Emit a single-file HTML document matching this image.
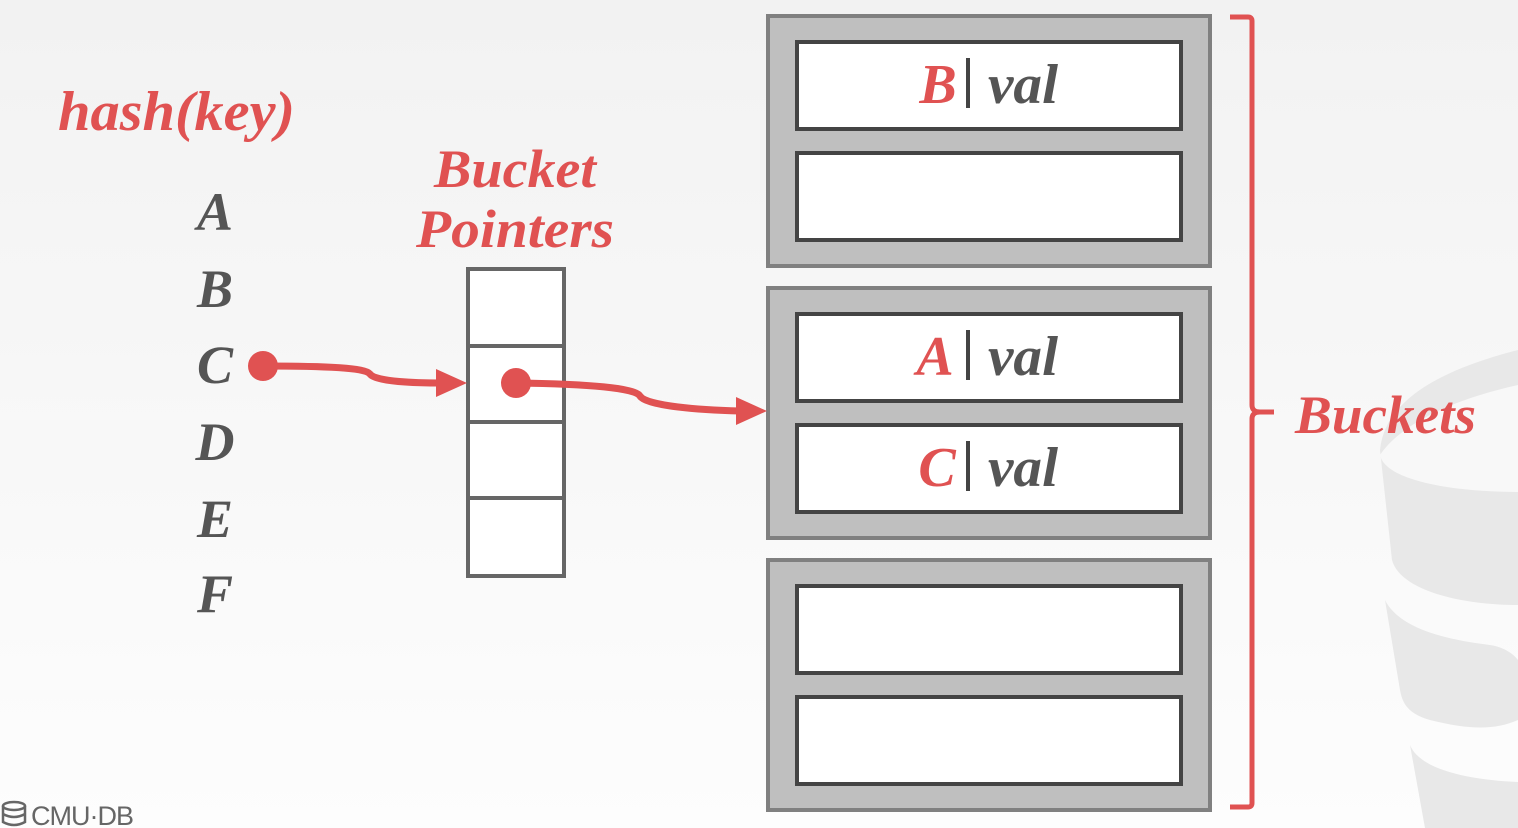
<!DOCTYPE html>
<html><head><meta charset="utf-8"><style>
html,body{margin:0;padding:0;}
body{width:1518px;height:828px;overflow:hidden;background:linear-gradient(#f2f2f2,#fdfdfd);}
svg{display:block;}
.r{fill:#e05252;font-family:"Liberation Serif",serif;font-style:italic;font-weight:bold;}
.g{fill:#555;font-family:"Liberation Serif",serif;font-style:italic;font-weight:bold;}
</style></head><body>
<svg width="1518" height="828" viewBox="0 0 1518 828">
<g fill="#e8e8e8">
<path d="M1518 350 C1440 370 1385 400 1380 450 L1392 560 C1400 590 1460 605 1518 605 Z"/>
<path d="M1385 600 C1400 630 1450 640 1490 645 C1510 648 1518 660 1518 660 L1518 720 C1495 730 1470 730 1430 720 C1405 713 1402 700 1400 690 Z"/>
<path d="M1410 745 C1420 770 1470 780 1518 782 L1518 828 L1425 828 Z"/>
<path d="M1518 385 C1450 400 1400 425 1380 455 C1385 480 1450 492 1518 492 Z" fill="#f8f8f8"/>
</g>
<text class="r" x="58" y="130" font-size="56" textLength="237" lengthAdjust="spacingAndGlyphs">hash(key)</text>
<g class="g" font-size="54" text-anchor="middle">
<text x="215" y="230">A</text>
<text x="215" y="307">B</text>
<text x="215" y="383">C</text>
<text x="215" y="460">D</text>
<text x="215" y="537">E</text>
<text x="215" y="612">F</text>
</g>
<text class="r" x="434" y="187" font-size="54" textLength="162" lengthAdjust="spacingAndGlyphs">Bucket</text>
<text class="r" x="416" y="247" font-size="54" textLength="198" lengthAdjust="spacingAndGlyphs">Pointers</text>
<g fill="#fff" stroke="#666" stroke-width="4">
<rect x="468" y="269" width="96" height="77"/>
<rect x="468" y="346" width="96" height="76"/>
<rect x="468" y="422" width="96" height="76"/>
<rect x="468" y="498" width="96" height="78"/>
</g>
<g fill="#bfbfbf" stroke="#808080" stroke-width="4">
<rect x="768" y="16" width="442" height="250"/>
<rect x="768" y="288" width="442" height="250"/>
<rect x="768" y="560" width="442" height="250"/>
</g>
<g fill="#fff" stroke="#444" stroke-width="4">
<rect x="797" y="42" width="384" height="87"/>
<rect x="797" y="153" width="384" height="87"/>
<rect x="797" y="314" width="384" height="87"/>
<rect x="797" y="425" width="384" height="87"/>
<rect x="797" y="586" width="384" height="87"/>
<rect x="797" y="697" width="384" height="87"/>
</g>
<g font-size="56">
<text class="r" x="938" y="103" text-anchor="middle">B</text><rect x="966" y="58" width="4" height="50" fill="#444"/><text class="g" x="988" y="103" textLength="70" lengthAdjust="spacingAndGlyphs">val</text>
<text class="r" x="935" y="375" text-anchor="middle">A</text><rect x="966" y="330" width="4" height="50" fill="#444"/><text class="g" x="988" y="375" textLength="70" lengthAdjust="spacingAndGlyphs">val</text>
<text class="r" x="937" y="486" text-anchor="middle">C</text><rect x="966" y="441" width="4" height="50" fill="#444"/><text class="g" x="988" y="486" textLength="70" lengthAdjust="spacingAndGlyphs">val</text>
</g>
<g>
<circle cx="263" cy="366" r="15" fill="#e05252"/>
<path d="M263 366 C330 366 365 368 370 374 C375 382 420 383 440 383" fill="none" stroke="#e05252" stroke-width="7"/>
<polygon points="436,369 467,383 436,397" fill="#e05252"/>
</g>
<g>
<circle cx="516" cy="383" r="15" fill="#e05252"/>
<path d="M516 383 C590 384 635 388 640 396 C646 406 700 410 740 411" fill="none" stroke="#e05252" stroke-width="7"/>
<polygon points="736,397 767,411 736,425" fill="#e05252"/>
</g>
<path d="M1230 17 L1248 17 Q1252 17 1252 21 L1252 405 Q1252 412 1260 412 L1274 412 M1260 412 Q1252 412 1252 419 L1252 803 Q1252 807 1248 807 L1230 807" fill="none" stroke="#e05252" stroke-width="5"/>
<text class="r" x="1295" y="433" font-size="54" textLength="181" lengthAdjust="spacingAndGlyphs">Buckets</text>
<g>
<g fill="none" stroke="#666" stroke-width="2.5"><ellipse cx="14" cy="806" rx="11" ry="4"/><path d="M3 806 V822 Q14 828 25 822 V806 M3 814 Q14 820 25 814"/></g>
<text x="31" y="825" font-family="Liberation Sans,sans-serif" font-size="27" fill="#666" letter-spacing="-1">CMU·DB</text>
</g>
</svg>
</body></html>
